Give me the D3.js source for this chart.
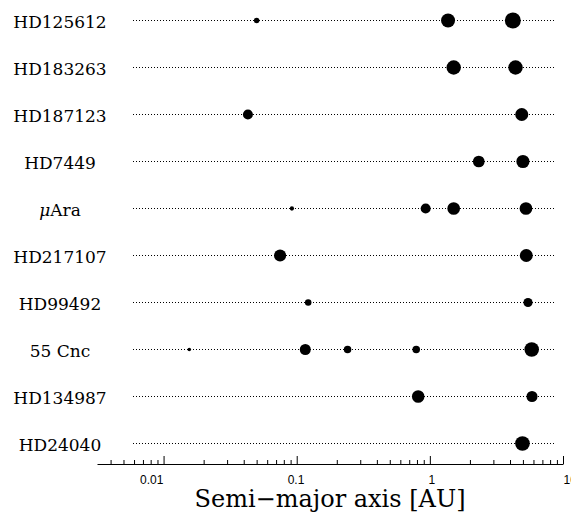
<!DOCTYPE html>
<html>
<head>
<meta charset="utf-8">
<script src="https://cdn.jsdelivr.net/npm/d3@7"></script>
<style>
  body { margin: 0; background: #fff; }
</style>
</head>
<body>
<div id="chart"></div>
<script>
// planetary systems, top to bottom
const stars = ["HD125612", "HD183263", "HD187123", "HD7449", "μAra",
  "HD217107", "HD99492", "55 Cnc", "HD134987", "HD24040"];

// semi-major axis of each planet [AU]
const semiMajor = [
  [0.05, 1.37, 4.2],
  [1.51, 4.4],
  [0.043, 4.9],
  [2.33, 5.0],
  [0.092, 0.93, 1.51, 5.27],
  [0.075, 5.3],
  [0.122, 5.46],
  [0.0156, 0.116, 0.241, 0.79, 5.82],
  [0.817, 5.85],
  [4.96]
];

// planet mass [M_Jup], sets the marker size
const masses = [
  [0.07, 3.0, 7.2],
  [3.7, 3.6],
  [0.52, 1.99],
  [1.1, 2.0],
  [0.04, 0.52, 1.68, 1.7],
  [1.33, 1.9],
  [0.109, 0.36],
  [0.03, 0.8, 0.17, 0.17, 3.8],
  [1.59, 0.82],
  [4.0]
];

const majorTicks = [0.01, 0.1, 1, 10];
const tickLabels = ["0.01", "0.1", "1", "10"];
const minorTicks = [0.004, 0.005, 0.006, 0.007, 0.008, 0.009,
  0.02, 0.03, 0.04, 0.05, 0.06, 0.07, 0.08, 0.09,
  0.2, 0.3, 0.4, 0.5, 0.6, 0.7, 0.8, 0.9,
  2, 3, 4, 5, 6, 7, 8, 9];

const width = 571;
const height = 522;
const serif = "'DejaVu Serif', serif";

const svg = d3
  .select("#chart")
  .append("svg")
  .attr("width", width)
  .attr("height", height)
  .style("background-color", "#fff");

const x = d3.scaleLog().domain([Math.pow(10, -2.5), 10]).range([97, 563]);
const y = d3.scalePoint().domain(stars).range([20.5, 443.5]);
const r = d3.scaleLog().domain([0.01, 10]).range([0.56, 8.36]);

const planets = [];
stars.forEach((star, i) => {
  semiMajor[i].forEach((a, j) => {
    planets.push({ star: star, a: a, m: masses[i][j] });
  });
});

// dotted guide lines
svg
  .append("g")
  .selectAll("line")
  .data(stars)
  .enter()
  .append("line")
  .attr("x1", x.range()[0] + 36)
  .attr("x2", x.range()[1] - 8)
  .attr("y1", (d) => y(d))
  .attr("y2", (d) => y(d))
  .attr("stroke", "#000")
  .attr("stroke-width", 1)
  .attr("stroke-dasharray", "1,2")
  .attr("shape-rendering", "crispEdges");

// star names
const names = svg
  .append("g")
  .selectAll("text")
  .data(stars)
  .enter()
  .append("text")
  .attr("x", 60)
  .attr("y", (d) => y(d))
  .attr("dy", "0.45em")
  .attr("text-anchor", "middle")
  .style("font-family", serif)
  .style("font-size", "17px")
  .attr("fill", "#000");

names.each(function (d) {
  const t = d3.select(this);
  if (d.startsWith("μ")) {
    t.append("tspan").style("font-style", "italic").text("μ");
    t.append("tspan").text(d.slice(1));
  } else {
    t.text(d);
  }
});

// planets
svg
  .append("g")
  .selectAll("circle")
  .data(planets)
  .enter()
  .append("circle")
  .attr("cx", (d) => x(d.a))
  .attr("cy", (d) => y(d.star))
  .attr("r", (d) => r(d.m))
  .attr("fill", "#000");

// axis, ticks pointing up
const axisY = 464;

svg
  .append("g")
  .attr("transform", `translate(0,${axisY})`)
  .call(d3.axisBottom(x).tickValues(minorTicks).tickSizeInner(-4).tickSizeOuter(0).tickFormat(""))
  .call((g) => g.select(".domain").remove())
  .call((g) => g.selectAll("line").attr("stroke", "#000"));

const major = svg
  .append("g")
  .attr("transform", `translate(0,${axisY})`)
  .attr("font-size", 12)
  .attr("font-family", "'Liberation Sans', Arial, sans-serif")
  .call(
    d3
      .axisBottom(x)
      .tickValues(majorTicks)
      .tickSizeInner(-8)
      .tickSizeOuter(0)
      .tickPadding(11)
      .tickFormat((d, i) => tickLabels[i])
  );

major.attr("font-size", 12).attr("font-family", "'Liberation Sans', Arial, sans-serif");
major.select(".domain").attr("stroke", "#000");
major.selectAll("line").attr("stroke", "#000");
major
  .selectAll("text")
  .attr("fill", "#000")
  .attr("text-anchor", "start")
  .attr("x", function (d) {
    // labels slide from right- to left-aligned along the axis
    const frac = (x(d) - x.range()[0]) / (x.range()[1] - x.range()[0]);
    const w = this.getComputedTextLength();
    return -(1 - frac) * w - (d === 0.01 ? 4 : 0);
  });

svg
  .append("text")
  .attr("x", 330)
  .attr("y", 507)
  .attr("text-anchor", "middle")
  .style("font-family", serif)
  .style("font-size", "24px")
  .attr("fill", "#000")
  .text("Semi\u2212major axis [AU]");
</script>
</body>
</html>
